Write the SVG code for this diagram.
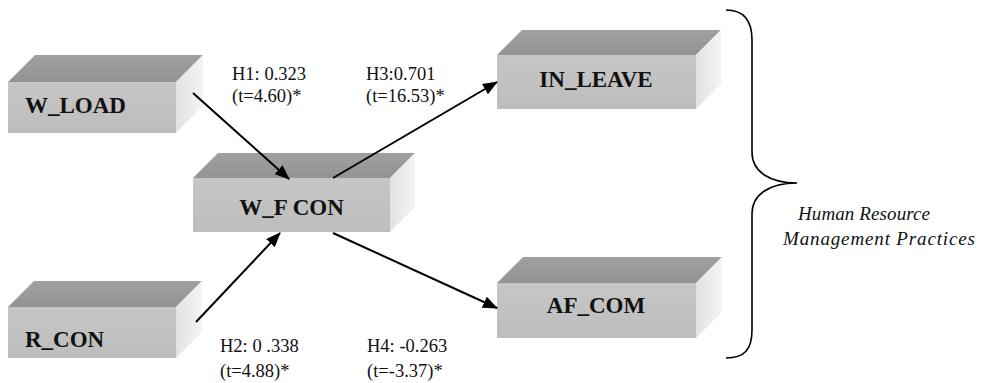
<svg xmlns="http://www.w3.org/2000/svg" width="981" height="383" viewBox="0 0 981 383">
  <defs>
    <linearGradient id="frontFill" x1="0" y1="0" x2="0" y2="1">
      <stop offset="0" stop-color="#c6c6c6"/>
      <stop offset="1" stop-color="#bdbdbd"/>
    </linearGradient>
    <linearGradient id="topFill" x1="0" y1="0" x2="0" y2="1">
      <stop offset="0" stop-color="#a0a0a0"/>
      <stop offset="1" stop-color="#939393"/>
    </linearGradient>
    <linearGradient id="sideFill" x1="0" y1="0" x2="1" y2="0">
      <stop offset="0" stop-color="#e2e2e2"/>
      <stop offset="1" stop-color="#f4f4f4"/>
    </linearGradient>
    <marker id="arrowHead" viewBox="0 0 15 12" refX="14" refY="6" markerWidth="15" markerHeight="12" markerUnits="userSpaceOnUse" orient="auto">
      <path d="M0,0 L15,6 L0,12 Z" fill="#000"/>
    </marker>
  </defs>
  <style>
    .front { fill: url(#frontFill); }
    .top { fill: url(#topFill); }
    .side { fill: url(#sideFill); }
    .name { font-family: "Liberation Serif", "Times New Roman", serif; font-weight: bold; font-size: 23px; fill: #111; }
    .coef { font-family: "Liberation Serif", "Times New Roman", serif; font-size: 18.5px; fill: #111; }
    .group { font-family: "Liberation Serif", "Times New Roman", serif; font-style: italic; font-size: 19px; fill: #111; }
    .link { stroke: #000; stroke-width: 2; fill: none; marker-end: url(#arrowHead); }
    .brace { stroke: #000; stroke-width: 1.6; fill: none; }
  </style>

  <rect width="981" height="383" fill="#fff"/>

  <!-- constructs drawn as 3D blocks: top face, right face, front face -->
  <g id="w_load">
    <polygon class="top" points="8,82 35,55 203,55 176,82"/>
    <polygon class="side" points="176,82 203,55 203,106 176,133"/>
    <rect class="front" x="8" y="82" width="168" height="51"/>
    <text class="name" x="25" y="113">W_LOAD</text>
  </g>

  <g id="r_con">
    <polygon class="top" points="8,307 34,281 202,281 176,307"/>
    <polygon class="side" points="176,307 202,281 202,332 176,358"/>
    <rect class="front" x="8" y="307" width="168" height="51"/>
    <text class="name" x="25" y="347">R_CON</text>
  </g>

  <g id="w_f_con">
    <polygon class="top" points="193,178 218,153 415,153 390,178"/>
    <polygon class="side" points="390,178 415,153 415,207 390,232"/>
    <rect class="front" x="193" y="178" width="197" height="54"/>
    <text class="name" x="291.5" y="215" text-anchor="middle">W_F CON</text>
  </g>

  <g id="in_leave">
    <polygon class="top" points="497,55 522,30 721,30 696,55"/>
    <polygon class="side" points="696,55 721,30 721,84 696,109"/>
    <rect class="front" x="497" y="55" width="199" height="54"/>
    <text class="name" x="596" y="87" text-anchor="middle">IN_LEAVE</text>
  </g>

  <g id="af_com">
    <polygon class="top" points="497,283 523,257 722,257 696,283"/>
    <polygon class="side" points="696,283 722,257 722,312 696,338"/>
    <rect class="front" x="497" y="283" width="199" height="55"/>
    <text class="name" x="596" y="313" text-anchor="middle">AF_COM</text>
  </g>

  <!-- hypothesised paths and the bracket grouping the outcomes -->
  <g id="connectors">
    <line class="link" x1="193" y1="93" x2="289" y2="179"/>
    <line class="link" x1="196" y1="322" x2="280" y2="233"/>
    <line class="link" x1="333" y1="178" x2="497" y2="82"/>
    <line class="link" x1="333" y1="233" x2="497" y2="308"/>
    <path class="brace" d="M726,10 C744,10 752,20 752,40 L752,152 C752,172 770,183 797,183 C770,183 752,194 752,214 L752,330 C752,350 744,358 726,358"/>
  </g>

  <!-- path coefficients -->
  <g id="labels">
    <text class="coef" x="232" y="80">H1: 0.323</text>
    <text class="coef" x="232" y="102">(t=4.60)*</text>
    <text class="coef" x="366" y="80">H3:0.701</text>
    <text class="coef" x="366" y="102">(t=16.53)*</text>
    <text class="coef" x="220" y="352">H2: 0 .338</text>
    <text class="coef" x="220" y="377">(t=4.88)*</text>
    <text class="coef" x="367" y="352">H4: -0.263</text>
    <text class="coef" x="367" y="377">(t=-3.37)*</text>
  </g>

  <g id="hrm_practices">
    <text class="group" x="798" y="220" textLength="132" lengthAdjust="spacing">Human Resource</text>
    <text class="group" x="783" y="245" textLength="192" lengthAdjust="spacing">Management Practices</text>
  </g>
</svg>
